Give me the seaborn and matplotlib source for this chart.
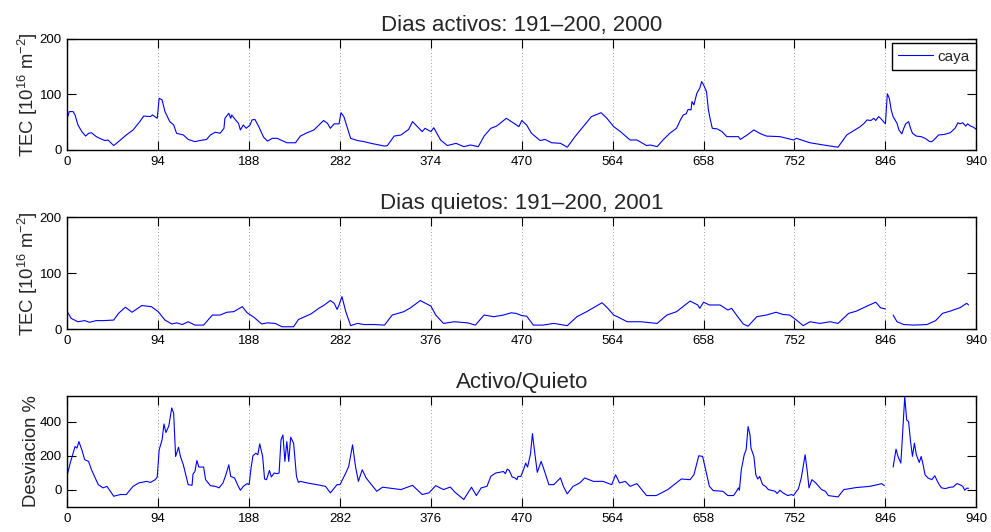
import numpy as np
import pandas as pd
import matplotlib
matplotlib.use("Agg")
import matplotlib.pyplot as plt
from matplotlib.lines import Line2D
import seaborn as sns

# Station "caya": TEC sampled through days 191-200 (sample index on x)
activo_x = [0, 2, 6, 8, 11, 15, 19, 22, 25, 30, 36, 39, 42, 48, 55, 61, 68, 75, 79, 86,
            88, 93, 95, 98, 101, 106, 110, 113, 120, 125, 132, 137, 144, 148, 153, 158,
            162, 163, 167, 169, 170, 174, 177, 179, 182, 185, 189, 191, 194, 198, 203,
            207, 212, 217, 222, 227, 236, 241, 248, 255, 262, 265, 269, 272, 276, 281,
            283, 286, 293, 300, 307, 314, 328, 331, 338, 345, 353, 357, 362, 367, 370,
            376, 379, 386, 393, 402, 410, 417, 425, 431, 438, 444, 454, 461, 467, 470,
            475, 480, 489, 494, 501, 510, 517, 525, 534, 542, 552, 558, 565, 572, 582,
            589, 599, 603, 610, 616, 623, 630, 634, 637, 640, 642, 645, 646, 648, 651,
            654, 656, 658, 661, 663, 665, 667, 672, 677, 682, 694, 696,
            703, 710, 716, 723, 737, 751, 754, 768, 782, 797, 806, 820, 824, 827, 831,
            834, 836, 839, 841, 844, 846, 848, 850, 852, 854, 858, 860, 863, 865, 867,
            870, 872, 874, 878, 883, 887, 892, 894, 896, 901, 907, 913, 918, 921, 923,
            926, 929, 931, 934, 937, 940]
activo_tec = [57, 69, 69, 63, 45, 33, 25, 30, 31, 24, 19, 17, 18, 8, 18, 27, 36, 51, 61, 60,
              63, 57, 93, 90, 69, 51, 45, 30, 27, 19, 15, 17, 19, 27, 32, 30,
              39, 57, 66, 57, 63, 54, 48, 36, 45, 39, 45, 54, 55, 42, 23,
              16, 21, 21, 17, 13, 13, 25, 31, 36, 48, 53, 48, 39, 47, 47,
              67, 60, 21, 17, 15, 12, 7, 8, 25, 27, 37, 51, 42, 33, 39,
              33, 40, 18, 8, 12, 6, 9, 6, 25, 39, 43, 57, 49, 42, 53,
              45, 30, 17, 19, 13, 12, 5, 24, 43, 60, 67, 57, 42, 33, 18,
              18, 8, 9, 6, 18, 30, 39, 54, 63, 65, 73, 72, 87, 81, 102,
              111, 123, 117, 105, 72, 54, 39, 38, 33, 24, 24, 19,
              27, 36, 30, 25, 24, 18, 21, 13, 9, 5, 27, 42, 48, 54, 53,
              57, 53, 60, 57, 51, 47, 101, 93, 72, 60, 48, 36, 29, 39, 47,
              51, 39, 30, 25, 24, 21, 15, 15, 18, 27, 28, 31, 39, 49, 47,
              49, 43, 47, 43, 41, 37]

quieto_x = [0, 4, 11, 18, 23, 30, 37, 48, 53, 60, 67, 77, 87, 94, 101, 108, 113, 119, 125,
            132, 141, 150, 158, 165, 172, 181, 186, 193, 201, 207, 215, 222, 234, 239, 252,
            260, 265, 272, 276, 279, 281, 284, 288, 293, 300, 307, 317, 328, 336, 348, 355,
            365, 376, 381, 389, 400, 414, 422, 431, 441, 451, 459, 464, 470, 475, 482, 492,
            503, 517, 527, 537, 553, 559, 565, 570, 579, 593, 610, 620, 630, 644, 652, 654,
            658, 664, 675, 683, 687, 692, 699, 704, 713, 723, 733, 740, 747, 754, 761, 768,
            778, 789, 797, 808, 816, 827, 836, 841, 846, 850, 854, 858, 865, 875, 889, 898,
            905, 913, 923, 930, 932]
quieto_tec = [31, 19, 13, 15, 12, 15, 15, 16, 28, 39, 30, 42, 40, 31, 16, 9, 11, 8, 13,
              7, 7, 25, 25, 30, 31, 40, 29, 21, 9, 11, 10, 4, 4, 17, 27,
              37, 42, 51, 46, 35, 43, 58, 31, 6, 10, 8, 8, 7, 25, 31, 38,
              51, 41, 25, 10, 13, 11, 7, 25, 22, 25, 29, 28, 24, 23, 7, 7,
              10, 6, 22, 31, 47, 37, 25, 21, 13, 13, 10, 25, 31, 50, 43, 37,
              48, 43, 43, 34, 37, 25, 9, 5, 22, 25, 30, 26, 25, 16, 6, 13,
              10, 13, 10, 28, 32, 41, 48, 38, 36, np.nan, 25, 13, 8, 7, 8, 15,
              28, 32, 38, 46, 43]

desv_x = [0, 3, 6, 8, 10, 12, 15, 18, 22, 25, 32, 37, 41, 48, 55, 61, 68, 74, 82, 86,
          91, 93, 95, 98, 100, 102, 105, 108, 110, 112, 115, 117, 120, 123, 125, 129,
          130, 132, 134, 136, 141, 143, 148, 153, 157, 161, 164, 167, 169, 173, 176, 179,
          182, 186, 188, 190, 192, 195, 197, 199, 202, 204, 206, 209, 211, 214, 217, 219,
          221, 223, 225, 227, 229, 231, 234, 237, 239, 241, 248, 258, 267,
          272, 279, 282, 288, 291, 295, 298, 301, 305, 309, 314, 320, 326, 345, 357, 367,
          374, 381, 389, 396, 401, 410, 418, 423, 428, 434, 438, 443, 447, 451, 453, 455,
          457, 460, 463, 465, 466, 469, 472, 474, 476, 479, 481, 483, 486, 490, 493, 498,
          503, 510, 513, 517, 523, 530, 535,
          544, 554, 563, 567, 571, 577, 582, 589, 599, 609, 621, 635, 644, 648, 653, 657,
          664, 668, 678, 683, 689, 692, 694, 695, 697, 700, 702, 704, 706, 707, 710, 712,
          714, 716, 719, 722, 725, 728, 732, 734, 737, 740, 745, 749, 751, 754, 756, 759,
          763, 765, 767, 770, 774, 777, 780, 784, 787, 797, 803, 816, 830, 838, 842, 845,
          850, 854, 857, 859, 862, 866, 868, 870, 872, 874, 876, 878, 881, 883, 885, 887,
          890, 894, 897, 901, 904, 908, 913, 916, 920, 923, 926, 928, 930, 932]
desv_pct = [89, 157, 216, 254, 245, 283, 235, 177, 167, 118, 31, 12, 21, -37, -27, -27, 21, 41, 50, 44,
            60, 76, 235, 293, 386, 336, 375, 480, 449, 196, 250, 196, 147, 76, 31, 27,
            93, 108, 172, 134, 134, 60, 25, 21, 12, 41, 89, 147, 79, 70, 31, -2,
            21, 37, 31, 128, 200, 215, 206, 270, 196, 64, 60, 114, 76, 99, 95, 99,
            293, 322, 167, 283, 167, 309, 274, 79, 44, 50, 41, 31, 21,
            -17, 31, 31, 99, 138, 264, 138, 50, 118, 70, 35, -8, 16, 2, 27, -27,
            -17, 25, 2, 17, -14, -56, 16, -33, 12, 21, 80, 99, 103, 108, 95, 122,
            114, 76, 70, 60, 79, 79, 122, 157, 134, 211, 330, 235, 103, 167, 118, 31,
            31, 70, 21, -23, 21, 41, 70,
            50, 50, 31, 89, 41, 50, 21, 37, -33, -33, 2, 64, 60, 89, 200, 196,
            21, -4, -8, -33, -33, -8, 12, -2, 118, 206, 235, 371, 322, 245, 196, 89,
            64, 79, 31, 21, 2, -2, -8, -21, -2, -17, -33, -27, -33, -8, 6, 70,
            206, 118, 12, 60, 41, 21, 2, -8, -33, -41, 2, 14, 21, 31, 37, 25,
            np.nan, 134, 239, 196, 157, 546, 410, 400, 283, 196, 274, 206, 161, 196, 147, 89,
            70, 60, 83, 37, 12, 8, 16, 17, 37, 31, 21, -2, 10, 10]

tick_pos = [0, 94, 188, 282, 376, 470, 564, 658, 752, 846, 940]
activo_ticklabels = ["0", "94", "188", "282", "374", "470", "564", "658", "752", "846", "940"]
tick_labels = ["0", "94", "188", "282", "376", "470", "564", "658", "752", "846", "940"]

titles = ["Dias activos: 191\u2013200, 2000",
          "Dias quietos: 191\u2013200, 2001",
          "Activo/Quieto"]
ylabels = [r"TEC [10$^{16}$ m$^{-2}$]", r"TEC [10$^{16}$ m$^{-2}$]", "Desviacion %"]


def as_segments(x, y):
    """Split a series at missing samples so the line breaks there."""
    df = pd.DataFrame({"muestra": x, "valor": y})
    df["tramo"] = df["valor"].isna().cumsum()
    return df.dropna()


sns.set_style("ticks")
plt.rcParams["font.family"] = ["Liberation Sans", "DejaVu Sans"]
plt.rcParams["mathtext.fontset"] = "custom"
plt.rcParams["mathtext.rm"] = "Liberation Sans"
plt.rcParams["mathtext.it"] = "Liberation Sans"

fig = plt.figure(figsize=(9.91, 5.32), dpi=100)
W, H = 991.0, 532.0
boxes = [(38.7, 150.0), (217.3, 329.0), (396.0, 507.0)]
left, right = 67.3, 976.3

series = [(activo_x, activo_tec), (quieto_x, quieto_tec), (desv_x, desv_pct)]
ylims = [(0, 200), (0, 200), (-100, 550)]
yticks = [[0, 100, 200], [0, 100, 200], [0, 200, 400]]
xlabels = [activo_ticklabels, tick_labels, tick_labels]

for i, ((top, bot), (sx, sy)) in enumerate(zip(boxes, series)):
    ax = fig.add_axes([left / W, 1 - bot / H, (right - left) / W, (bot - top) / H])
    data = as_segments(sx, sy)
    sns.lineplot(data=data, x="muestra", y="valor", units="tramo", estimator=None,
                 color="#0000ff", linewidth=0.8, ax=ax, legend=False)
    ax.set_xlim(0, 940)
    ax.set_ylim(*ylims[i])
    ax.set_xticks(tick_pos)
    ax.set_xticklabels(xlabels[i])
    ax.set_yticks(yticks[i])
    ax.set_xlabel("")
    ax.set_ylabel(ylabels[i], fontsize=13.3, labelpad=-0.5)
    ax.set_title(titles[i], fontsize=16, pad=5.8)
    ax.tick_params(direction="in", length=6.5, width=0.8, top=True, right=True,
                   labelsize=9.5, pad=4, colors="black")
    for s in ax.spines.values():
        s.set_visible(True)
        s.set_linewidth(1.0)
        s.set_color("black")
    ax.grid(axis="x", color="#7f7f7f", linestyle=(0, (1, 3)), linewidth=0.6)
    ax.grid(axis="y", visible=False)
    if i == 0:
        handle = Line2D([], [], color="#0000ff", linewidth=0.8)
        leg = ax.legend([handle], ["caya"], loc="upper right",
                        bbox_to_anchor=(1 - 0.7 / 909, 1 - 4.6 / 111.3),
                        fontsize=11, frameon=True, fancybox=False, framealpha=1,
                        edgecolor="black", borderaxespad=0, handlelength=2.26,
                        borderpad=0.42, handletextpad=0.28)
        leg.get_frame().set_linewidth(1.0)

fig.savefig("out.png", dpi=100)
